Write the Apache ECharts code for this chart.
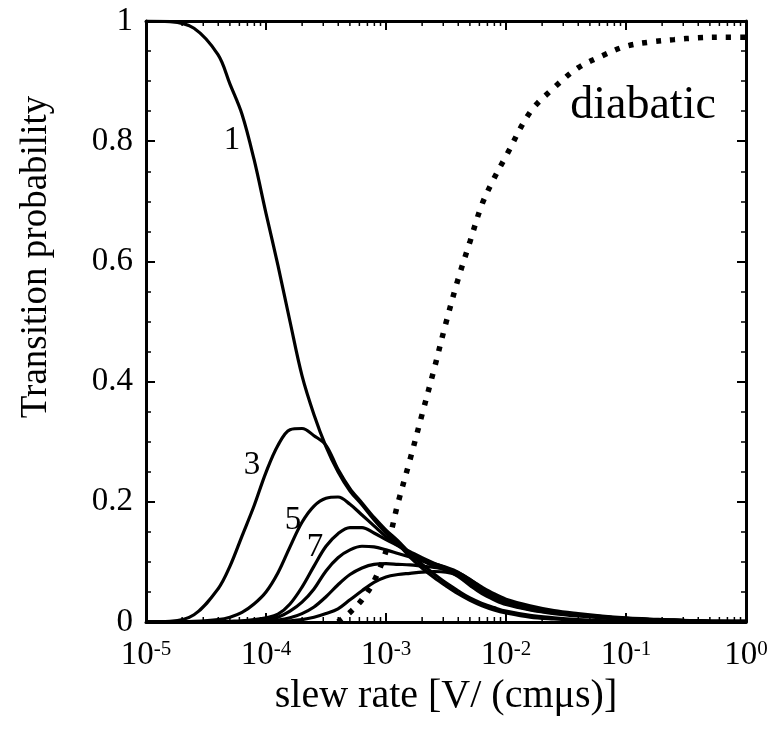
<!DOCTYPE html>
<html><head><meta charset="utf-8">
<script src="https://cdn.jsdelivr.net/npm/echarts@6/dist/echarts.min.js"></script>
<style>html,body{margin:0;padding:0;background:#fff}#c{width:771px;height:733px}</style>
</head><body><div id="c"></div>
<script>
// log10 of slew rate [V/(cm us)]
const slewExp = [-5,-4.8,-4.6,-4.4,-4.3,-4.2,-4.1,-4.0,-3.9,-3.8,-3.7,-3.6,-3.5,-3.4,-3.3,-3.2,-3.1,-3.0,-2.9,-2.8,-2.7,-2.6,-2.5,-2.4,-2.3,-2.2,-2.1,-2.0,-1.8,-1.6,-1.4,-1.2,-1.0,-0.8,-0.6,-0.4,-0.2,0];
const p1  = [1.0,0.999,0.988,0.944,0.895,0.845,0.77,0.68,0.593,0.5,0.41,0.345,0.292,0.25,0.218,0.195,0.17,0.148,0.13,0.108,0.09,0.074,0.06,0.047,0.036,0.027,0.02,0.015,0.008,0.005,0.003,0.002,0.001,0.001,0,0,0,0];
const p3  = [0,0.001,0.012,0.055,0.093,0.143,0.193,0.249,0.294,0.32,0.322,0.31,0.294,0.254,0.222,0.198,0.174,0.153,0.135,0.114,0.096,0.08,0.065,0.052,0.04,0.031,0.024,0.018,0.011,0.007,0.004,0.002,0.001,0.001,0,0,0,0];
const p5  = [0,0,0.001,0.004,0.008,0.016,0.03,0.05,0.082,0.125,0.166,0.193,0.206,0.208,0.196,0.178,0.16,0.142,0.127,0.114,0.102,0.093,0.086,0.076,0.061,0.047,0.037,0.029,0.02,0.014,0.01,0.007,0.005,0.003,0.002,0.001,0.001,0];
const p7  = [0,0,0,0,0.001,0.002,0.004,0.007,0.013,0.03,0.058,0.093,0.126,0.147,0.157,0.157,0.148,0.137,0.127,0.117,0.107,0.098,0.09,0.08,0.066,0.051,0.04,0.031,0.021,0.015,0.011,0.008,0.005,0.004,0.003,0.002,0.001,0.001];
const p9  = [0,0,0,0,0,0.001,0.002,0.004,0.008,0.018,0.033,0.055,0.085,0.107,0.12,0.126,0.125,0.12,0.114,0.108,0.102,0.097,0.091,0.083,0.07,0.054,0.042,0.033,0.022,0.016,0.012,0.009,0.006,0.004,0.003,0.002,0.001,0.001];
const p11 = [0,0,0,0,0,0,0,0.001,0.003,0.007,0.014,0.025,0.042,0.062,0.079,0.09,0.096,0.097,0.096,0.095,0.093,0.091,0.088,0.082,0.071,0.056,0.044,0.035,0.024,0.017,0.012,0.009,0.006,0.004,0.003,0.002,0.001,0.001];
const p13 = [0,0,0,0,0,0,0,0,0.001,0.002,0.004,0.008,0.014,0.022,0.037,0.052,0.066,0.075,0.079,0.081,0.083,0.084,0.083,0.078,0.07,0.058,0.047,0.038,0.027,0.019,0.014,0.01,0.007,0.005,0.003,0.002,0.001,0.001];
const pDiabatic = [null,null,null,null,null,null,null,null,null,null,null,null,null,0,0.016,0.037,0.068,0.118,0.198,0.27,0.345,0.42,0.498,0.57,0.633,0.695,0.738,0.775,0.848,0.889,0.922,0.942,0.958,0.965,0.969,0.972,0.973,0.973];
const decadeExps = [-5,-4,-3,-2,-1];
const minorMultipliers = [2,3,4,5,6,7,8,9];
const curveNames = ['1','3','5','7','9','11','13'];

const FONT = '"Liberation Serif", "Times New Roman", serif';
const solidSets = [p1,p3,p5,p7,p9,p11,p13];
const minorExps = [];
decadeExps.forEach(d => minorMultipliers.forEach(m => minorExps.push([d + Math.log10(m)])));

const chart = echarts.init(document.getElementById('c'));
const frameLine = {show:true, onZero:false, lineStyle:{color:'#000', width:3}};
const majorTick = {show:true, inside:true, length:9, lineStyle:{color:'#000', width:2}};

const series = solidSets.map((arr, i) => ({
  name: curveNames[i], type:'line', xAxisIndex:0, yAxisIndex:0,
  data: slewExp.map((x, k) => [x, arr[k]]),
  showSymbol:false, smooth:0.35,
  lineStyle:{color:'#000', width:3.2, join:'round'}, silent:true, z:3
}));
series.push({
  name:'diabatic', type:'line', xAxisIndex:0, yAxisIndex:0,
  data: slewExp.map((x, k) => [x, pDiabatic[k]]),
  showSymbol:false, smooth:0.35, connectNulls:false,
  lineStyle:{color:'#000', width:5.5, type:[5,9], cap:'butt'}, silent:true, z:4
});
series.push({
  type:'custom', xAxisIndex:0, yAxisIndex:0, data:minorExps, encode:{x:0}, silent:true, clip:false, z:5,
  renderItem:(params, api) => {
    const b = api.coord([api.value(0), 0]);
    const t = api.coord([api.value(0), 1]);
    return {type:'group', children:[
      {type:'line', shape:{x1:b[0], y1:b[1], x2:b[0], y2:b[1]-5}, style:{stroke:'#000', lineWidth:1.5}},
      {type:'line', shape:{x1:t[0], y1:t[1], x2:t[0], y2:t[1]+5}, style:{stroke:'#000', lineWidth:1.5}}
    ]};
  }
});

chart.setOption({
  animation:false,
  backgroundColor:'#fff',
  grid:{left:146, right:25, top:21, bottom:111},
  xAxis:[{
    type:'value', min:-5, max:0, interval:1, position:'bottom',
    axisLine:frameLine, axisTick:majorTick, splitLine:{show:false},
    axisLabel:{margin:17, formatter:v => '{b|10}{s|' + v + '}',
      rich:{b:{fontFamily:FONT, fontSize:33, color:'#000'}, s:{fontFamily:FONT, fontSize:21, color:'#000', verticalAlign:'top'}}},
    name:'slew rate [V/ (cmμs)]', nameLocation:'middle', nameGap:48,
    nameTextStyle:{fontFamily:FONT, fontSize:40, color:'#000'}
  },{
    type:'value', min:-5, max:0, interval:1, position:'top',
    axisLine:frameLine, axisTick:majorTick, splitLine:{show:false}, axisLabel:{show:false}
  }],
  yAxis:[{
    type:'value', min:0, max:1, interval:0.2, position:'left',
    axisLine:frameLine, axisTick:majorTick, splitLine:{show:false},
    minorTick:{show:true, splitNumber:4, length:5, lineStyle:{color:'#000', width:1.5}},
    axisLabel:{fontFamily:FONT, fontSize:33, color:'#000', margin:13}
  },{
    type:'value', min:0, max:1, interval:0.2, position:'right',
    axisLine:frameLine, axisTick:majorTick, splitLine:{show:false},
    minorTick:{show:true, splitNumber:4, length:5, lineStyle:{color:'#000', width:1.5}},
    axisLabel:{show:false}
  }],
  series: series
});

const annotations = [
  {t:'1', x:-4.283, y:0.802, size:33},
  {t:'3', x:-4.117, y:0.261, size:33},
  {t:'5', x:-3.775, y:0.17, size:33},
  {t:'7', x:-3.592, y:0.125, size:33},
  {t:'diabatic', x:-0.858, y:0.859, size:46}
];
const graphics = annotations.map(a => {
  const p = chart.convertToPixel({xAxisIndex:0, yAxisIndex:0}, [a.x, a.y]);
  return {type:'text', x:p[0], y:p[1], z:10, silent:true,
    style:{text:a.t, fontFamily:FONT, fontSize:a.size, fill:'#000', align:'center', verticalAlign:'middle'}};
});
// y-axis title (placed as in the original figure, above the plot's centre)
graphics.push({type:'text', x:36, y:257, rotation:Math.PI/2, z:10, silent:true,
  style:{text:'Transition probability', fontFamily:FONT, fontSize:37, fill:'#000', align:'center', verticalAlign:'middle'}});
chart.setOption({graphic: graphics});
</script></body></html>
